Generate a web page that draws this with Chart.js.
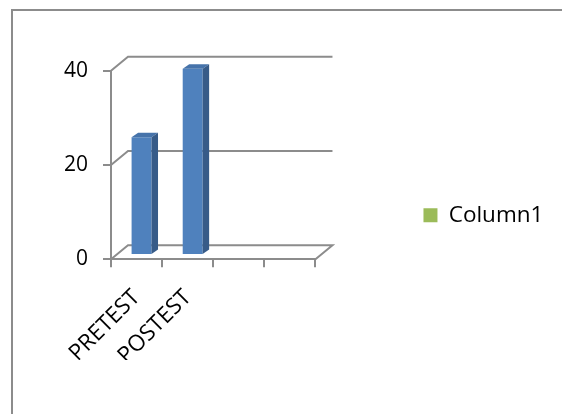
<!DOCTYPE html>
<html>
<head>
<meta charset="utf-8">
<script src="https://cdn.jsdelivr.net/npm/chart.js@4/dist/chart.umd.min.js"></script>
<style>
  html, body { margin: 0; padding: 0; background: #fff; }
  #wrap { position: relative; width: 562px; height: 414px; overflow: hidden; }
  #frame { position: absolute; left: 11px; top: 9px; width: 600px; height: 450px;
           border-left: 2px solid #8c8c8c; border-top: 2px solid #8c8c8c; box-sizing: border-box; }
  canvas { position: absolute; left: 0; top: 0; }
</style>
</head>
<body>
<div id="wrap">
  <div id="frame"></div>
  <canvas id="c" width="562" height="414"></canvas>
</div>
<script>
// Categories and values
const categories = ['PRETEST', 'POSTEST', '', ''];
const scores = [25, 39.5, null, null];
const seriesName = 'Series1';
const legendName = 'Column1';
const yMin = 0, yMax = 40, yStep = 20;

// Colours
const GRID = '#8c8c8c';
const BAR_FRONT = '#4f81bd';
const BAR_TOP = '#4673aa';
const BAR_SIDE = '#375b88';
const LEGEND_GREEN = '#9bbb59';

// Pseudo-3D geometry (pixels)
const WALL = { dx: 17, dy: -14 };       // depth of the back wall
const PLANE = { dx: 5, dy: -4.3 };      // plane in which the columns stand
const COLDEPTH = { dx: 6.5, dy: -4.5 }; // thickness of each column

const FONT = 'Open Sans';
Chart.defaults.font.family = FONT;
Chart.defaults.color = '#000';

const walls3d = {
  id: 'walls3d',
  beforeDatasetsDraw(chart) {
    const { ctx, chartArea: a, scales: { y } } = chart;
    ctx.save();
    ctx.strokeStyle = GRID;
    ctx.lineWidth = 2;
    y.ticks.forEach(t => {
      const py = y.getPixelForValue(t.value);
      ctx.beginPath();
      ctx.moveTo(a.left, py);
      ctx.lineTo(a.left + WALL.dx, py + WALL.dy);
      ctx.lineTo(a.right + WALL.dx, py + WALL.dy);
      if (t.value === y.min) ctx.lineTo(a.right, py);
      ctx.stroke();
    });
    ctx.restore();
    // columns are drawn in a plane a little behind the front edge
    ctx.save();
    ctx.translate(PLANE.dx, PLANE.dy);
  },
  afterDatasetsDraw(chart) {
    const { ctx } = chart;
    const meta = chart.getDatasetMeta(0);
    meta.data.forEach((bar, i) => {
      if (scores[i] == null) return;
      const { x, y, base, width } = bar.getProps(['x', 'y', 'base', 'width'], true);
      const l = x - width / 2, r = x + width / 2;
      ctx.fillStyle = BAR_TOP;
      ctx.beginPath();
      ctx.moveTo(l, y);
      ctx.lineTo(l + COLDEPTH.dx, y + COLDEPTH.dy);
      ctx.lineTo(r + COLDEPTH.dx, y + COLDEPTH.dy);
      ctx.lineTo(r, y);
      ctx.closePath();
      ctx.fill();
      ctx.fillStyle = BAR_SIDE;
      ctx.beginPath();
      ctx.moveTo(r, y);
      ctx.lineTo(r + COLDEPTH.dx, y + COLDEPTH.dy);
      ctx.lineTo(r + COLDEPTH.dx, base + COLDEPTH.dy);
      ctx.lineTo(r, base);
      ctx.closePath();
      ctx.fill();
    });
    ctx.restore();
  }
};

new Chart(document.getElementById('c'), {
  type: 'bar',
  data: {
    labels: categories,
    datasets: [
      { label: seriesName, data: scores, backgroundColor: BAR_FRONT, borderWidth: 0,
        barPercentage: 0.39, categoryPercentage: 1, clip: false },
      { label: legendName, data: [], backgroundColor: LEGEND_GREEN, borderWidth: 0 }
    ]
  },
  options: {
    responsive: false,
    animation: false,
    events: [],
    datasets: { bar: { grouped: false } },
    layout: { padding: { top: 70.7, right: 8.6, bottom: 54, left: 0 } },
    plugins: {
      title: { display: false },
      tooltip: { enabled: false },
      legend: {
        display: true,
        position: 'right',
        align: 'center',
        maxWidth: 400,
        labels: {
          font: { family: FONT, size: 22.5 },
          color: '#000',
          boxWidth: 14,
          boxHeight: 14,
          padding: 108,
          filter: item => item.datasetIndex === 1
        }
      }
    },
    scales: {
      x: {
        offset: true,
        grid: { offset: true, drawOnChartArea: false, drawTicks: true, tickLength: 8, color: GRID, lineWidth: 2 },
        border: { display: true, color: GRID, width: 2 },
        ticks: { font: { family: FONT, size: 22.5 }, color: '#000', minRotation: 45, maxRotation: 45, autoSkip: false, padding: 17 },
        afterFit: s => { s.height = 100.7; }
      },
      y: {
        min: yMin, max: yMax,
        grid: { drawOnChartArea: false, drawTicks: true, tickLength: 8, color: GRID, lineWidth: 2 },
        border: { display: true, color: GRID, width: 2 },
        ticks: { stepSize: yStep, font: { family: FONT, size: 21 }, color: '#000', padding: 15 },
        afterFit: s => { s.width = 111; }
      }
    }
  },
  plugins: [walls3d]
});
</script>
</body>
</html>
